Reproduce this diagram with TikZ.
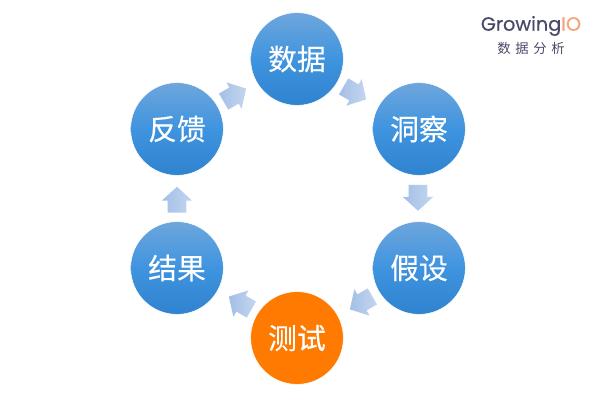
\documentclass[tikz,border=0pt]{standalone}
\usepackage{fontspec}
\usetikzlibrary{shapes.arrows}
\setmainfont{Noto Sans CJK SC}
\newfontfamily\stepfont[FakeBold=0.25]{Noto Sans CJK SC}
\newfontfamily\logofont[FakeBold=0.5]{Poppins}
\definecolor{stepmid}{HTML}{3F94DF}
\definecolor{steptop}{HTML}{6EA6DC}
\definecolor{stepbot}{HTML}{3083CE}
\definecolor{steporange}{HTML}{FF7A00}
\definecolor{flowdark}{HTML}{A3BFE6}
\definecolor{flowlight}{HTML}{C4D6EF}
\definecolor{logodark}{HTML}{4A4A68}
\definecolor{logoorange}{HTML}{F4A27C}
\begin{document}
\begin{tikzpicture}[
        % 步驟圓形樣式
        stepnode/.style={
            circle,
            draw=white,
            thin,
            minimum size=2.32cm,
            inner sep=0pt,
            text=white,
            font=\stepfont\fontsize{20.5pt}{24pt}\selectfont
        },
        bluestep/.style={
            stepnode,
            top color=steptop,
            bottom color=stepbot,
            middle color=stepmid
        },
        orangestep/.style={
            stepnode,
            fill=steporange
        },
        % 方塊箭頭樣式
        flowarrow/.style={
            single arrow,
            draw=none,
            minimum height=0.65cm,
            single arrow head extend=0.15cm,
            single arrow tip angle=95,
            inner xsep=0pt,
            inner ysep=0.225cm,
            left color=flowdark,
            right color=flowlight
        }
    ]
        \useasboundingbox (0,0) rectangle (15,10.05);

        % 1. 六個步驟
        \node[bluestep] (data) at (7.425,8.575) {数据};
        \node[bluestep] (insight) at (10.475,6.825) {洞察};
        \node[bluestep] (guess) at (10.475,3.35) {假设};
        \node[orangestep] (test) at (7.425,1.6) {测试};
        \node[bluestep] (result) at (4.425,3.35) {结果};
        \node[bluestep] (feedback) at (4.425,6.825) {反馈};

        % 2. 箭頭 (順時針)
        \node[flowarrow, rotate=-30] (a1) at (8.78,7.78) {};
        \node[flowarrow, rotate=-90] (a2) at (10.45,5.21) {};
        \node[flowarrow, rotate=-150] (a3) at (9.12,2.53) {};
        \node[flowarrow, rotate=150] (a4) at (6.095,2.42) {};
        \node[flowarrow, rotate=90] (a5) at (4.425,4.95) {};
        \node[flowarrow, rotate=30] (a6) at (5.78,7.62) {};

        % 3. 標誌
        \node[font=\logofont\fontsize{13.7pt}{16pt}\selectfont, text=logodark, inner sep=0pt] (logotext) at (13.275,9.4) {Growing\textcolor{logoorange}{IO}};
        \node[font=\fontsize{9.5pt}{11pt}\selectfont, text=logodark, inner sep=0pt, below=0pt] (logosub) at (13.275,9.0) {数\hspace{3.3pt}据\hspace{3.3pt}分\hspace{3.3pt}析};
\end{tikzpicture}
\end{document}
